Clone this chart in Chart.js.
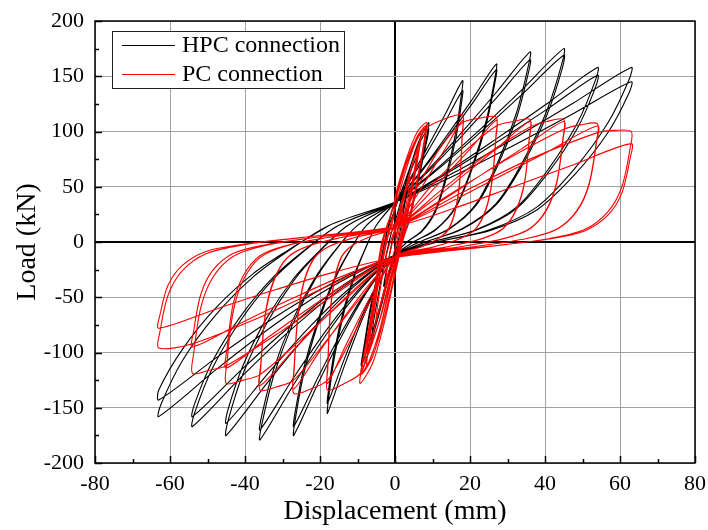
<!DOCTYPE html>
<html>
<head>
<meta charset="utf-8">
<script src="https://cdn.jsdelivr.net/npm/chart.js@4.4.1/dist/chart.umd.min.js"></script>
<style>
  html, body { margin: 0; padding: 0; background: #fff; }
  #wrap { width: 708px; height: 530px; }
</style>
</head>
<body>
<div id="wrap"><canvas id="chart" width="708" height="530"></canvas></div>
<script>
// axis ticks
const xTicks = [-80, -60, -40, -20, 0, 20, 40, 60, 80];
const yTicks = [-200, -150, -100, -50, 0, 50, 100, 150, 200];
const seriesNames = ['HPC connection', 'PC connection'];

// HPC connection: load (kN) vs displacement (mm), cycle by cycle
const hpcElastic = [
    [0, 0], [1.5, 22], [3, 42], [2.3, 28], [0.8, 0], [-1, -20], [-3, -40], [-2.3, -26], [-0.8, 0], [0, 10],
    [2, 38], [4, 62], [6, 78], [5, 58], [3, 22], [1, -5], [-1.5, -30], [-4, -62], [-6, -80], [-5, -58], [-3, -22], [-1, 8], [0, 18],
    [3, 55], [6, 88], [9, 108], [8, 88], [6, 55], [3.5, 18], [1.5, 0], [-1, -22], [-4, -62], [-7, -98], [-9, -118], [-8.2, -98], [-6.5, -62], [-4, -22], [-2, 10], [0, 30],
    [3, 58], [6, 86], [9, 103], [8, 84], [6, 52], [3.5, 16], [1.5, 0], [-1, -20], [-4, -58], [-7, -93], [-9, -112], [-8.2, -93], [-6.5, -58], [-4, -20], [-2, 12]
];
const hpc18 = [
    [0, 36], [4.5, 60.2], [9, 87.7], [13.5, 116.3], [18, 146],
    [17.8, 135.8], [16.2, 99.3], [13.7, 61.3], [10.8, 29.2], [7.2, 10.2], [3.2, 0], [0, -12],
    [-4.5, -37.7], [-9, -72.1], [-13.5, -112.1], [-18, -155],
    [-17.8, -144.2], [-16.2, -105.4], [-13.7, -65.1], [-10.8, -31], [-8.1, -7.8], [-5, 15],
    [0, 36], [4.5, 58.2], [9, 83.5], [13.5, 109.7], [18, 137],
    [17.8, 127.4], [16.2, 93.2], [13.7, 57.5], [10.8, 27.4], [7.2, 9.6], [3.2, 0], [0, -12],
    [-4.5, -36.1], [-9, -68.3], [-13.5, -105.8], [-18, -146],
    [-17.8, -135.8], [-16.2, -99.3], [-13.7, -61.3], [-10.8, -29.2], [-8.1, -7.3], [-5, 15]
];
const hpc27 = [
    [0, 36], [6.75, 63.5], [13.5, 94.8], [20.25, 127.3], [27, 161],
    [26.7, 149.7], [24.3, 109.5], [20.5, 67.6], [16.2, 32.2], [10.8, 11.3], [4.9, 0], [0, -12],
    [-6.75, -41.3], [-13.5, -80.5], [-20.25, -126.1], [-27, -175],
    [-26.7, -162.8], [-24.3, -119], [-20.5, -73.5], [-16.2, -35], [-12.2, -8.8], [-7.6, 15],
    [0, 36], [6.75, 62.4], [13.5, 92.4], [20.25, 123.6], [27, 156],
    [26.7, 145.1], [24.3, 106.1], [20.5, 65.5], [16.2, 31.2], [10.8, 10.9], [4.9, 0], [0, -12],
    [-6.75, -39.9], [-13.5, -77.1], [-20.25, -120.5], [-27, -167],
    [-26.7, -155.3], [-24.3, -113.6], [-20.5, -70.1], [-16.2, -33.4], [-12.2, -8.4], [-7.6, 15]
];
const hpc36 = [
    [0, 36], [9, 65.9], [18, 99.9], [27, 135.3], [36, 172],
    [35.6, 160], [32.4, 117], [27.4, 72.2], [21.6, 34.4], [14.4, 12], [6.5, 0], [0, -12],
    [-9, -42.1], [-18, -82.1], [-27, -128.9], [-36, -179],
    [-35.6, -166.5], [-32.4, -121.7], [-27.4, -75.2], [-21.6, -35.8], [-16.2, -9], [-10, 15],
    [0, 36], [9, 64.4], [18, 96.6], [27, 130.2], [36, 165],
    [35.6, 153.5], [32.4, 112.2], [27.4, 69.3], [21.6, 33], [14.4, 11.6], [6.5, 0], [0, -12],
    [-9, -40.4], [-18, -78.4], [-27, -122.6], [-36, -170],
    [-35.6, -158.1], [-32.4, -115.6], [-27.4, -71.4], [-21.6, -34], [-16.2, -8.5], [-10, 15]
];
const hpc45 = [
    [0, 36], [11.25, 66.6], [22.5, 101.3], [33.75, 137.5], [45, 175],
    [44.6, 162.8], [40.5, 119], [34.2, 73.5], [27, 35], [18, 12.3], [8.1, 0], [0, -12],
    [-11.25, -41.3], [-22.5, -80.5], [-33.75, -126.1], [-45, -175],
    [-44.6, -162.8], [-40.5, -119], [-34.2, -73.5], [-27, -35], [-20.2, -8.8], [-12.6, 15],
    [0, 36], [11.25, 65.3], [22.5, 98.5], [33.75, 133.1], [45, 169],
    [44.6, 157.2], [40.5, 114.9], [34.2, 71], [27, 33.8], [18, 11.8], [8.1, 0], [0, -12],
    [-11.25, -39.4], [-22.5, -75.8], [-33.75, -118.4], [-45, -164],
    [-44.6, -152.5], [-40.5, -111.5], [-34.2, -68.9], [-27, -32.8], [-20.2, -8.2], [-12.6, 15]
];
const hpc54 = [
    [0, 36], [13.5, 62.8], [27, 93.3], [40.5, 125.1], [54, 158],
    [53.5, 146.9], [48.6, 107.4], [41, 66.4], [32.4, 31.6], [21.6, 11.1], [9.7, 0], [0, -12],
    [-13.5, -39.9], [-27, -77.1], [-40.5, -120.5], [-54, -167],
    [-53.5, -155.3], [-48.6, -113.6], [-41, -70.1], [-32.4, -33.4], [-24.3, -8.4], [-15.1, 15],
    [0, 36], [13.5, 61.3], [27, 90], [40.5, 120], [54, 151],
    [53.5, 140.4], [48.6, 102.7], [41, 63.4], [32.4, 30.2], [21.6, 10.6], [9.7, 0], [0, -12],
    [-13.5, -38.3], [-27, -73.3], [-40.5, -114.2], [-54, -158],
    [-53.5, -146.9], [-48.6, -107.4], [-41, -66.4], [-32.4, -31.6], [-24.3, -7.9], [-15.1, 15]
];
const hpc63 = [
    [0, 36], [15.75, 62.8], [31.5, 93.3], [47.25, 125.1], [63, 158],
    [62.4, 146.9], [56.7, 107.4], [47.9, 66.4], [37.8, 31.6], [25.2, 11.1], [11.3, 0], [0, -12],
    [-15.75, -38.3], [-31.5, -73.3], [-47.25, -114.2], [-63, -158],
    [-62.4, -146.9], [-56.7, -107.4], [-47.9, -66.4], [-37.8, -31.6], [-28.4, -7.9], [-17.6, 15],
    [0, 36], [15.75, 60], [31.5, 87.2], [47.25, 115.6], [63, 145],
    [62.4, 134.9], [56.7, 98.6], [47.9, 60.9], [37.8, 29], [25.2, 10.2], [11.3, 0], [0, -12],
    [-15.75, -35.6], [-31.5, -67], [-47.25, -103.7], [-63, -143],
    [-63, -134], [-56.7, -97.2], [-47.9, -60.1], [-37.8, -28.6], [-28.4, -7.2], [-17.6, 15]
];

// PC connection
const pcElastic = [
    [0, 0], [1, 16], [2, 32], [1.5, 18], [0.3, -2], [-1, -18], [-2.5, -38], [-2, -22], [-0.8, -2], [0, 8],
    [1.5, 28], [4, 58], [3.2, 38], [1, 0], [-1.5, -30], [-5, -70], [-4.2, -48], [-2, -8], [0, 12],
    [2, 35], [4, 62], [6, 85], [5, 62], [3, 28], [1, -5], [-1.5, -35], [-4.5, -75], [-7.5, -100], [-6.5, -78], [-4.5, -40], [-2.5, -5], [-1, 15],
    [0, 16], [2.5, 45], [5, 75], [6.5, 90], [5.5, 66], [3.5, 30], [1.5, -3], [-1, -32], [-4, -70], [-8, -108], [-7, -85], [-5, -45], [-3, -8], [-1.5, 12],
    [0, 30], [3, 66], [5.5, 90], [7, 98], [6.2, 78], [4.5, 45], [2.5, 10], [1, -10], [-1.5, -42], [-4.5, -85], [-7.5, -112], [-7, -95], [-5.5, -62], [-4, -28], [-2.5, 0], [-0.5, 20],
    [0, 40], [3, 75], [6, 100], [8.5, 108], [8, 92], [6, 55], [4, 22], [2, 0], [0, -30], [-3, -75], [-6, -110], [-9.3, -128], [-8.8, -112], [-7, -80], [-5.3, -40], [-3.5, 0],
    [0, 36], [3, 70], [6, 94], [8, 103], [7.5, 86], [5.5, 50], [3.5, 18], [1.5, 0], [-0.5, -28], [-3.5, -72], [-6.5, -105], [-8.8, -118], [-8.2, -102], [-6.5, -70], [-4.8, -34], [-3.2, 0],
    [0, 38], [3, 72], [6, 96], [8.2, 105], [7.7, 88], [5.8, 52], [3.8, 20], [1.8, 0], [0, -27], [-3, -70], [-6, -104], [-9, -120], [-8.5, -105], [-6.8, -74], [-5, -36], [-3, 0]
];
const pc18 = [
    [0, 14], [3, 50], [6, 85], [8, 102], [13, 111], [18, 115],
    [17.9, 97.8], [17.3, 57.5], [16.2, 31.1], [14.4, 12.7], [11.7, 3.5], [7.2, -4], [0, -14],
    [-3, -45], [-6, -85], [-9, -118], [-13.5, -128], [-18, -134],
    [-17.9, -113.9], [-17.3, -67], [-16.2, -36.2], [-14.4, -14.7], [-11.7, -4], [-7.2, 4],
    [0, 14], [4.5, 35.1], [9, 60.1], [13.5, 85], [18, 110],
    [17.9, 93.5], [17.3, 55], [16.2, 29.7], [14.4, 12.1], [11.7, 3.3], [7.2, -4], [0, -14],
    [-4.5, -36.8], [-9, -65.3], [-13.5, -96.1], [-18, -128],
    [-17.9, -108.8], [-17.3, -64], [-16.2, -34.6], [-14.4, -14.1], [-11.7, -3.8], [-7.2, 4]
];
const pc27 = [
    [0, 14], [6, 50], [12, 85], [18, 108], [22.5, 112], [27, 113],
    [26.9, 96.1], [25.9, 56.5], [24.3, 30.5], [21.6, 12.4], [17.6, 3.4], [10.8, -4], [0, -14],
    [-6, -50], [-12, -90], [-18, -125], [-22.5, -133], [-27, -137],
    [-26.9, -116.5], [-25.9, -68.5], [-24.3, -37], [-21.6, -15.1], [-17.6, -4.1], [-10.8, 4],
    [0, 14], [6.75, 35.1], [13.5, 60.1], [20.25, 85], [27, 110],
    [26.9, 93.5], [25.9, 55], [24.3, 29.7], [21.6, 12.1], [17.6, 3.3], [10.8, -4], [0, -14],
    [-6.75, -37.8], [-13.5, -67.6], [-20.25, -99.7], [-27, -133],
    [-26.9, -113], [-25.9, -66.5], [-24.3, -35.9], [-21.6, -14.6], [-17.6, -4], [-10.8, 4]
];
const pc36 = [
    [0, 14], [9, 48], [18, 80], [27, 105], [31.5, 109], [36, 111],
    [35.8, 94.4], [34.6, 55.5], [32.4, 30], [28.8, 12.2], [23.4, 3.3], [14.4, -4], [0, -14],
    [-9, -50], [-18, -88], [-27, -125], [-31.5, -131], [-36, -134],
    [-35.8, -113.9], [-34.6, -67], [-32.4, -36.2], [-28.8, -14.7], [-23.4, -4], [-14.4, 4],
    [0, 14], [9, 34.9], [18, 59.6], [27, 84.3], [36, 109],
    [35.8, 92.7], [34.6, 54.5], [32.4, 29.4], [28.8, 12], [23.4, 3.3], [14.4, -4], [0, -14],
    [-9, -37.2], [-18, -66.2], [-27, -97.5], [-36, -130],
    [-35.8, -110.5], [-34.6, -65], [-32.4, -35.1], [-28.8, -14.3], [-23.4, -3.9], [-14.4, 4]
];
const pc45 = [
    [0, 14], [12, 46], [24, 78], [36, 104], [40.5, 109], [45, 111],
    [44.8, 94.4], [43.2, 55.5], [40.5, 30], [36, 12.2], [29.25, 3.3], [18, -4], [0, -14],
    [-12, -48], [-24, -85], [-36, -120], [-40.5, -125], [-45, -128],
    [-44.8, -108.8], [-43.2, -64], [-40.5, -34.6], [-36, -14.1], [-29.25, -3.8], [-18, 4],
    [0, 14], [11.25, 34.9], [22.5, 59.6], [33.75, 84.3], [45, 109],
    [44.8, 92.7], [43.2, 54.5], [40.5, 29.4], [36, 12], [29.25, 3.3], [18, -4], [0, -14],
    [-11.25, -34], [-22.5, -59], [-33.75, -86], [-45, -114],
    [-44.8, -96.9], [-43.2, -57], [-40.5, -30.8], [-36, -12.5], [-29.25, -3.4], [-18, 4]
];
const pc54 = [
    [0, 14], [15, 44], [30, 75], [45, 102], [49.5, 106], [54, 107],
    [53.7, 91], [51.8, 53.5], [48.6, 28.9], [43.2, 11.8], [35.1, 3.2], [21.6, -4], [0, -14],
    [-15, -45], [-30, -80], [-45, -112], [-49.5, -116], [-54, -119],
    [-53.7, -101.2], [-51.8, -59.5], [-48.6, -32.1], [-43.2, -13.1], [-35.1, -3.6], [-21.6, 4],
    [0, 14], [13.5, 34], [27, 57.7], [40.5, 81.3], [54, 105],
    [53.7, 89.3], [51.8, 52.5], [48.6, 28.4], [43.2, 11.6], [35.1, 3.2], [21.6, -4], [0, -14],
    [-13.5, -30.2], [-27, -50.5], [-40.5, -72.3], [-54, -95],
    [-53.7, -80.8], [-51.8, -47.5], [-48.6, -25.7], [-43.2, -10.5], [-35.1, -2.9], [-21.6, 4]
];
const pc63 = [
    [0, 14], [18, 45], [36, 75], [54, 99], [58.5, 101], [63, 100],
    [62.7, 85], [60.5, 50], [56.7, 27], [50.4, 11], [41, 3], [25.2, -4], [0, -14],
    [-18, -40], [-36, -68], [-54, -92], [-63, -96],
    [-62.7, -81.6], [-60.5, -48], [-56.7, -25.9], [-50.4, -10.6], [-41, -2.9], [-25.2, 4],
    [0, 14], [15.75, 30.5], [31.5, 50], [47.25, 69.5], [63, 89],
    [62.7, 75.7], [60.5, 44.5], [56.7, 24], [50.4, 9.8], [41, 2.7], [25.2, -4], [0, -14],
    [-15.75, -26.8], [-31.5, -42.8], [-47.25, -60.1], [-63, -78],
    [-62.7, -66.3], [-60.5, -39], [-56.7, -21.1], [-50.4, -8.6], [-41, -2.3], [-25.2, 4]
];

const toPoints = loops => loops.flat().map(([x, y]) => ({ x, y }));
const hpcPoints = toPoints([hpcElastic, hpc18, hpc27, hpc36, hpc45, hpc54, hpc63]);
const pcPoints = toPoints([pcElastic, pc18, pc27, pc36, pc45, pc54, pc63]);

const serif = 'Liberation Serif, Times New Roman, serif';

// frame, inner ticks and the boxed legend
const framePlugin = {
    id: 'frame',
    afterDatasetsDraw(chart) {
        const { ctx, chartArea, scales } = chart;
        const { left, right, top, bottom } = chartArea;
        ctx.save();
        ctx.strokeStyle = '#000';
        ctx.lineWidth = 1.5;
        ctx.beginPath();
        for (let v = -80; v <= 80; v += 10) {
            const px = Math.round(scales.x.getPixelForValue(v)) + 0.5;
            const len = v % 20 === 0 ? 7 : 4;
            ctx.moveTo(px, bottom);
            ctx.lineTo(px, bottom - len);
        }
        for (let v = -200; v <= 200; v += 25) {
            const py = Math.round(scales.y.getPixelForValue(v)) + 0.5;
            const len = v % 50 === 0 ? 7 : 4;
            ctx.moveTo(left, py);
            ctx.lineTo(left + len, py);
        }
        ctx.stroke();
        ctx.strokeRect(left, top, right - left, bottom - top);

        // legend
        const colors = chart.data.datasets.map(d => d.borderColor);
        const bx = 112.5, by = 31.5, bw = 232, bh = 57;
        ctx.fillStyle = '#fff';
        ctx.fillRect(bx, by, bw, bh);
        ctx.lineWidth = 1;
        ctx.strokeStyle = '#222';
        ctx.strokeRect(bx, by, bw, bh);
        ctx.font = '24px ' + serif;
        ctx.textBaseline = 'middle';
        ctx.textAlign = 'left';
        seriesNames.forEach((name, i) => {
            const yy = 45 + i * 29;
            ctx.strokeStyle = colors[i];
            ctx.lineWidth = 1.2;
            ctx.beginPath();
            ctx.moveTo(122, yy + 0.5);
            ctx.lineTo(175, yy + 0.5);
            ctx.stroke();
            ctx.fillStyle = '#000';
            ctx.fillText(name, 182, yy + 1);
        });
        ctx.restore();
    }
};

const gridColor = c => (c.tick && c.tick.value === 0 ? '#000' : '#a0a0a0');
const gridWidth = c => (c.tick && c.tick.value === 0 ? 2 : 1);

new Chart(document.getElementById('chart'), {
    type: 'scatter',
    data: {
        datasets: [
            {
                label: seriesNames[0],
                data: hpcPoints,
                showLine: true,
                borderColor: '#000000',
                borderWidth: 1.1,
                pointRadius: 0,
                tension: 0.3,
                order: 1
            },
            {
                label: seriesNames[1],
                data: pcPoints,
                showLine: true,
                borderColor: '#ff0000',
                borderWidth: 1.1,
                pointRadius: 0,
                tension: 0.3,
                order: 0
            }
        ]
    },
    options: {
        responsive: false,
        animation: false,
        devicePixelRatio: 1,
        layout: { padding: { left: 0, top: 21, right: 13, bottom: 0 } },
        plugins: {
            legend: { display: false },
            tooltip: { enabled: false }
        },
        scales: {
            x: {
                type: 'linear',
                min: -80,
                max: 80,
                afterBuildTicks: s => { s.ticks = xTicks.map(v => ({ value: v })); },
                afterFit: s => { s.height = 67; s.paddingLeft = 0; s.paddingRight = 0; },
                ticks: { color: '#000', font: { family: serif, size: 22 }, padding: 8, maxRotation: 0 },
                grid: { color: gridColor, lineWidth: gridWidth, drawTicks: false },
                border: { display: false },
                title: {
                    display: true,
                    text: 'Displacement (mm)',
                    color: '#000',
                    font: { family: serif, size: 28, lineHeight: 1 },
                    padding: { top: 0, bottom: 4 }
                }
            },
            y: {
                type: 'linear',
                min: -200,
                max: 200,
                afterBuildTicks: s => { s.ticks = yTicks.map(v => ({ value: v })); },
                afterFit: s => { s.width = 95; s.paddingTop = 0; s.paddingBottom = 0; },
                ticks: { color: '#000', font: { family: serif, size: 22 }, padding: 11 },
                grid: { color: gridColor, lineWidth: gridWidth, drawTicks: false },
                border: { display: false },
                title: {
                    display: true,
                    text: 'Load (kN)',
                    color: '#000',
                    font: { family: serif, size: 28, lineHeight: 1 },
                    padding: { top: 14, bottom: 0 }
                }
            }
        }
    },
    plugins: [framePlugin]
});
</script>
</body>
</html>
